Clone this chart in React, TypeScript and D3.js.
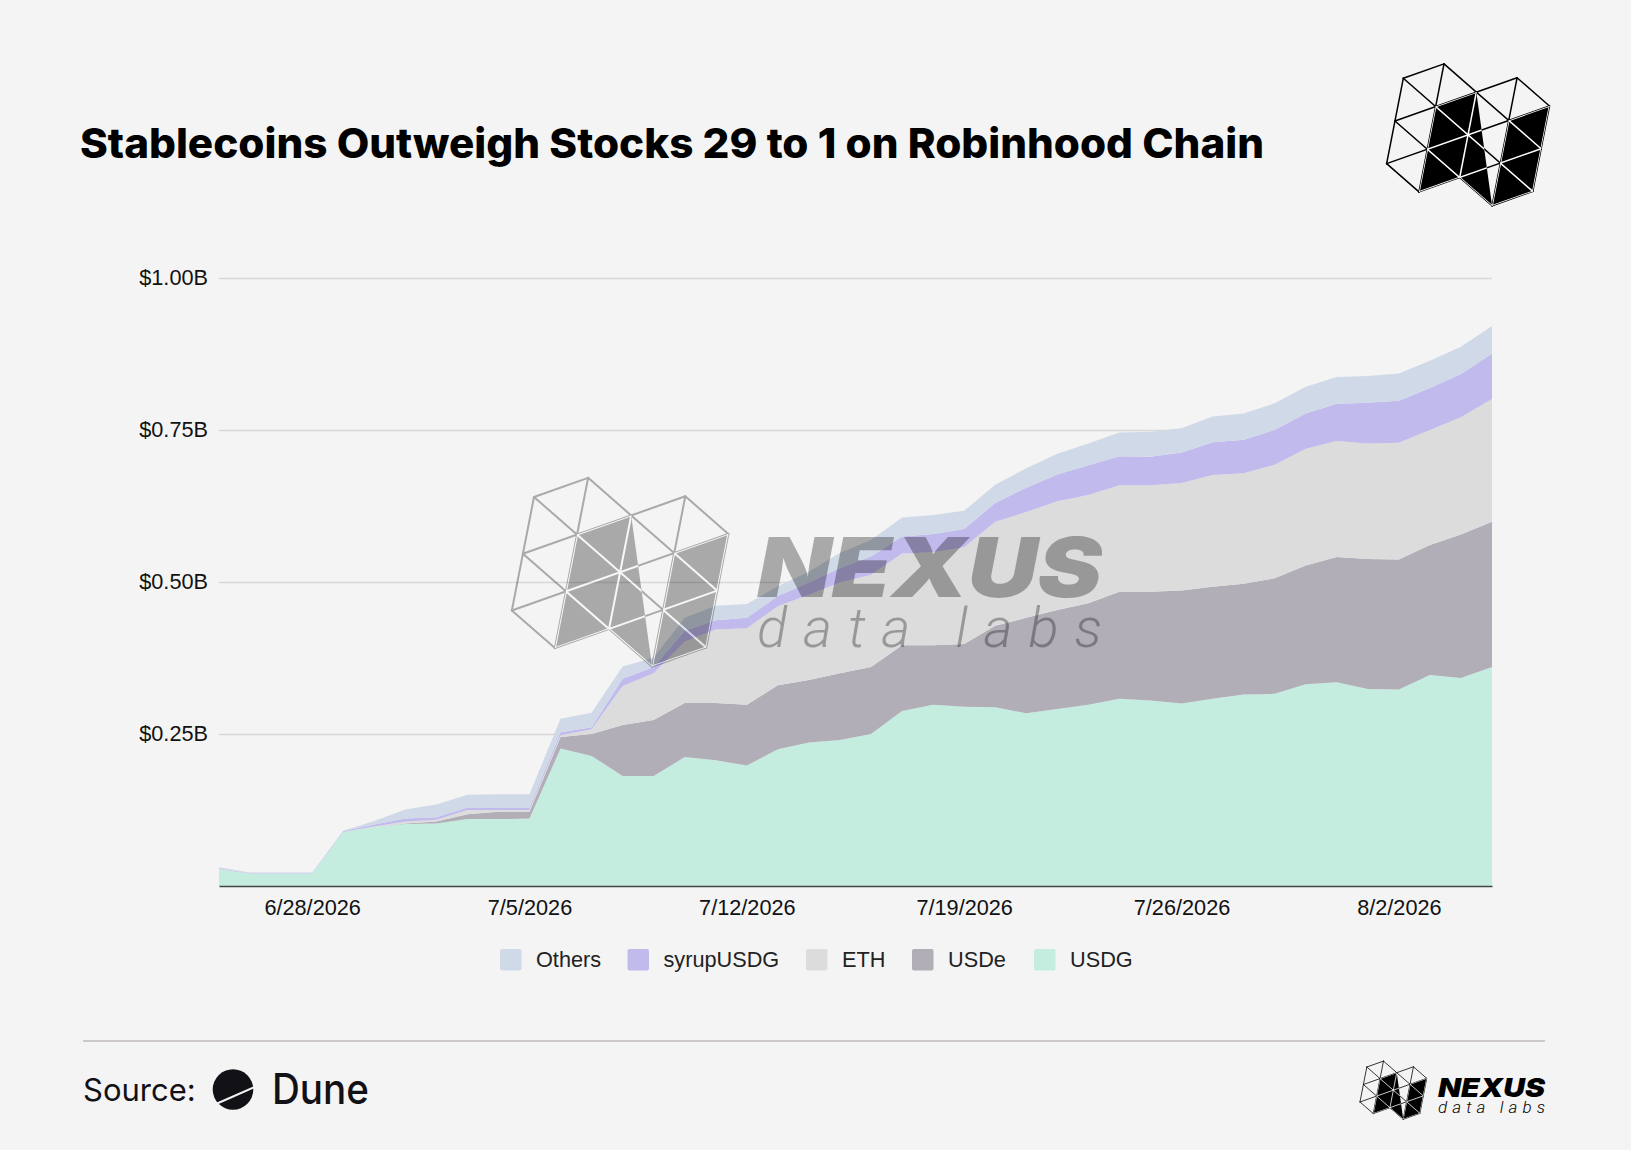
import React, {FC, useEffect, useRef} from "react";
import * as d3 from "d3";

const title = "Stablecoins Outweigh Stocks 29 to 1 on Robinhood Chain";
const startDay = new Date(Date.UTC(2026, 5, 25));
const endDay = new Date(Date.UTC(2026, 7, 6));
const days = d3.utcDay.range(startDay, endDay);
const yTicks = [250, 500, 750, 1000];
const xTickDays = [3, 10, 17, 24, 31, 38];
const legendOrder = ["Others", "syrupUSDG", "ETH", "USDe", "USDG"];

// values in $M, one per day
const usdg = [28, 20, 20, 20, 89, 97, 102, 103, 110, 110, 111, 226, 214, 181, 181, 212, 207, 198, 225, 236, 240, 250, 288, 298, 295, 294, 284, 291, 298, 308, 305, 300, 308, 315, 316, 332, 335, 324, 323, 347, 342, 360];
const usde = [0, 0, 0, 0, 0, 0, 1, 3, 8, 12, 11, 19, 36, 84, 92, 89, 94, 100, 105, 103, 110, 110, 108, 98, 103, 134, 157, 163, 167, 176, 179, 186, 184, 182, 190, 195, 206, 214, 214, 214, 236, 239];
const eth = [0, 0, 0, 0, 0, 1, 3, 3, 7, 3, 3, 3, 8, 64, 77, 101, 121, 126, 130, 140, 149, 152, 151, 153, 159, 171, 174, 179, 178, 175, 175, 177, 184, 182, 187, 192, 191, 190, 192, 189, 193, 202];
const syrupUsdg = [1, 1, 1, 1, 1, 3, 5, 4, 4, 4, 4, 5, 3, 12, 10, 18, 15, 17, 17, 20, 24, 30, 28, 30, 30, 31, 40, 44, 49, 48, 47, 50, 54, 55, 57, 58, 61, 67, 69, 69, 71, 75];
const others = [2, 1, 1, 1, 1, 6, 15, 21, 21, 22, 22, 22, 24, 20, 16, 21, 24, 23, 16, 18, 25, 27, 31, 31, 30, 30, 32, 34, 36, 39, 41, 40, 42, 43, 44, 44, 44, 44, 45, 45, 45, 45];

const seriesKeys = ["USDG", "USDe", "ETH", "syrupUSDG", "Others"];
const seriesValues: Record<string, number[]> = {USDG: usdg, USDe: usde, ETH: eth, syrupUSDG: syrupUsdg, Others: others};
const colors: Record<string, string> = {
    Others: "#d0d9e7",
    syrupUSDG: "#c1baec",
    ETH: "#dcdcdc",
    USDe: "#b1aeb8",
    USDG: "#c4eddf",
};

const legendX: Record<string, number> = {Others: 500, syrupUSDG: 627.5, ETH: 806, USDe: 912, USDG: 1034};

const helvetica = "'Liberation Sans', Arial, sans-serif";
const inter = "Inter, sans-serif";

// logo is a triangular lattice, [i, j] nodes
const latticeLines = [
    [[0, 0], [1, 0]], [[0, 1], [3, 1]], [[0, 2], [4, 2]], [[1, 3], [4, 3]], [[3, 4], [4, 4]],
    [[0, 0], [0, 2]], [[1, 0], [1, 3]], [[2, 1], [2, 3]], [[3, 1], [3, 4]], [[4, 2], [4, 4]],
    [[0, 0], [4, 4]], [[1, 0], [4, 3]], [[3, 1], [4, 2]], [[0, 1], [3, 4]], [[0, 2], [1, 3]],
];
const darkShapes = [
    [[1, 1], [2, 1], [3, 4], [2, 3], [1, 3]],
    [[3, 2], [4, 2], [4, 4], [3, 4]],
];

const node = ([i, j]: number[]) => [i * 40.7 - j * 8.33, -i * 14.4 + j * 42.67];

const Logo: FC<{id: string; x: number; y: number; scale: number; opacity?: number; sw: number}> = ({id, x, y, scale, opacity = 1, sw}) => {
    const polys = darkShapes.map(s => s.map(n => node(n).join(",")).join(" "));
    const lines = latticeLines.map(([a, b], i) => {
        const [x1, y1] = node(a);
        const [x2, y2] = node(b);
        return <line key={i} x1={x1} y1={y1} x2={x2} y2={y2} strokeLinecap="round"/>;
    });
    return (
        <g transform={`translate(${x},${y}) scale(${scale})`} opacity={opacity}>
            <clipPath id={id}>
                {polys.map((p, i) => <polygon key={i} points={p}/>)}
            </clipPath>
            <g stroke="#000" strokeWidth={sw}>{lines}</g>
            {polys.map((p, i) => <polygon key={i} points={p} fill="#000"/>)}
            <g stroke="#fff" strokeWidth={sw} clipPath={`url(#${id})`}>{lines}</g>
        </g>
    );
};

const Wordmark: FC<{x: number; width: number; base1: number; size1: number; base2: number; size2: number; fill: string; opacity?: number}> = ({x, width, base1, size1, base2, size2, fill, opacity = 1}) => (
    <g fill={fill} opacity={opacity}>
        <text x={x} y={base1} fontFamily={inter} fontWeight={900} fontStyle="italic" fontSize={size1}
              textLength={width} lengthAdjust="spacingAndGlyphs">NEXUS</text>
        <text x={x} y={base2} fontFamily="Roboto, sans-serif" fontWeight={300} fontStyle="italic" fontSize={size2}
              textLength={width} lengthAdjust="spacing">data labs</text>
    </g>
);

export default function App() {
    const margin = {top: 278, right: 139, bottom: 264, left: 219};
    const width = 1631;
    const height = 1150;

    const xScale = d3.scaleUtc()
        .domain([days[0], days[days.length - 1]])
        .range([margin.left, width - margin.right]);
    const yScale = d3.scaleLinear()
        .domain([0, 1000])
        .range([height - margin.bottom, margin.top]);

    const table = days.map((d, i) => {
        const row: any = {date: d};
        seriesKeys.forEach(k => { row[k] = seriesValues[k][i]; });
        return row;
    });
    const stacked = d3.stack().keys(seriesKeys)(table);
    const area = d3.area<any>()
        .x(d => xScale(d.data.date))
        .y0(d => yScale(d[0]))
        .y1(d => yScale(d[1]));

    const xAxisRef = useRef<SVGGElement>(null);
    const yAxisRef = useRef<SVGGElement>(null);

    useEffect(() => {
        const xAxis = d3.axisBottom(xScale)
            .tickValues(xTickDays.map(i => days[i]))
            .tickFormat((d: any) => `${d.getUTCMonth() + 1}/${d.getUTCDate()}/${d.getUTCFullYear()}`)
            .tickSize(0)
            .tickPadding(14);
        const xg = d3.select(xAxisRef.current).call(xAxis as any);
        xg.select(".domain").attr("stroke", "#444").attr("stroke-width", 1.3);
        xg.selectAll("text").attr("font-family", helvetica).attr("font-size", 21.7).attr("fill", "#111");

        const yAxis = d3.axisLeft(yScale)
            .tickValues(yTicks)
            .tickFormat((d: any) => `$${(d / 1000).toFixed(2)}B`)
            .tickSize(-(width - margin.left - margin.right))
            .tickPadding(11);
        const yg = d3.select(yAxisRef.current).call(yAxis as any);
        yg.select(".domain").remove();
        yg.selectAll("line").attr("stroke", "#d8d8d8").attr("stroke-width", 1.3);
        yg.selectAll("text").attr("font-family", helvetica).attr("font-size", 21.7).attr("fill", "#111");
    }, []);

    return (
        <svg width={width} height={height} viewBox={`0 0 ${width} ${height}`}
             style={{position: "absolute", left: 0, top: 0, background: "#f4f4f4"}}>
            <text x={80} y={158} fontFamily={inter} fontWeight={800} fontSize={41} fill="#000"
                  textLength={1184} lengthAdjust="spacingAndGlyphs">{title}</text>
            <Logo id="logoTop" x={1403.3} y={78.3} scale={1} sw={1.5}/>

            <g ref={yAxisRef} transform={`translate(${margin.left},0)`}/>
            <g>
                {stacked.map(s => (
                    <path key={s.key} d={area(s) as string} fill={colors[s.key]}/>
                ))}
            </g>
            <g ref={xAxisRef} transform={`translate(0,${height - margin.bottom})`}/>

            <Logo id="logoMark" x={534} y={497} scale={1.33} opacity={0.3} sw={1.5}/>
            <Wordmark x={757} width={345} base1={597} size1={83} base2={647} size2={56} fill="#000" opacity={0.3}/>

            {legendOrder.map(k => (
                <g key={k}>
                    <rect x={legendX[k]} y={949} width={21.5} height={21.5} rx={2} fill={colors[k]}/>
                    <text x={legendX[k] + 36} y={967} fontFamily={helvetica} fontSize={21.7} fill="#222">{k}</text>
                </g>
            ))}

            <line x1={83} x2={1545} y1={1041} y2={1041} stroke="#cdc9cb" strokeWidth={2}/>
            <text x={83} y={1100.5} fontFamily={inter} fontSize={31} fill="#111116">Source:</text>
            <circle cx={233} cy={1089.5} r={20.3} fill="#111116"/>
            <line x1={216} x2={256} y1={1104} y2={1086.5} stroke="#f4f4f4" strokeWidth={2}/>
            <text x={272} y={1104} fontFamily={inter} fontWeight={500} fontSize={42} fill="#111116"
                  textLength={97} lengthAdjust="spacingAndGlyphs">Dune</text>

            <Logo id="logoFoot" x={1366.8} y={1067} scale={0.41} sw={1.9}/>
            <Wordmark x={1438} width={107} base1={1097} size1={26} base2={1112.5} size2={17} fill="#000"/>
        </svg>
    );
}
